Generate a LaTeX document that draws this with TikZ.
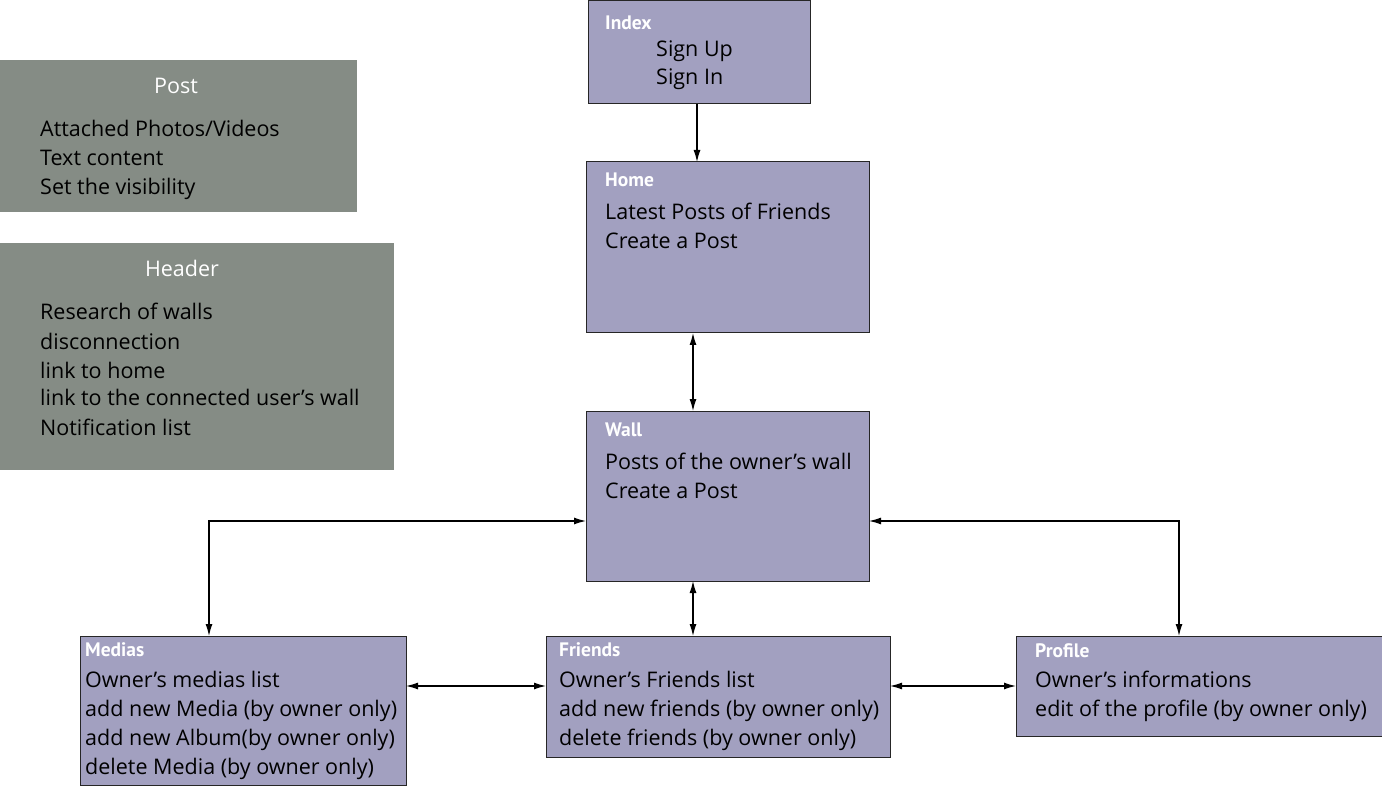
\documentclass[tikz,border=0pt]{standalone}
\usepackage{fontspec}
\setmainfont{Open Sans}
\newfontfamily\ttlfont{PT Sans}
\usetikzlibrary{arrows.meta}
\definecolor{boxfill}{HTML}{A2A0C0}
\definecolor{greyfill}{HTML}{858C85}
\tikzset{
  pg/.style={draw=black!85, line width=1pt, fill=boxfill, inner sep=0pt, outer sep=0pt},
  gb/.style={fill=greyfill, inner sep=0pt, outer sep=0pt},
  ttl/.style={anchor=base west, inner sep=0pt, text=white, font=\ttlfont\bfseries\fontsize{19.5}{19.5}\selectfont},
  gttl/.style={anchor=base, inner sep=0pt, text=white, font=\fontsize{21.5}{21.5}\selectfont},
  txt/.style={anchor=base west, inner sep=0pt, font=\fontsize{21.5}{21.5}\selectfont},
  conn/.style={line width=1.2pt, -{Latex[length=12pt,width=7pt]}},
  bconn/.style={line width=1.2pt, {Latex[length=12pt,width=7pt]}-{Latex[length=12pt,width=7pt]}},
}
\begin{document}
\begin{tikzpicture}[x=1pt,y=-1pt]
\useasboundingbox (0,0) rectangle (1382,786);
% grey boxes
\node[gb, minimum width=357pt, minimum height=152pt] (post) at (178.5,136) {};
\node[gttl] (postt) at (176,94) {Post};
\node[txt] (p1) at (40,137) {Attached Photos/Videos};
\node[txt] (p2) at (40,166) {Text content};
\node[txt] (p3) at (40,195) {Set the visibility};
\node[gb, minimum width=394pt, minimum height=227pt] (header) at (197,356.5) {};
\node[gttl] (headt) at (182,277) {Header};
\node[txt] (h1) at (40,320) {Research of walls};
\node[txt] (h2) at (40,349) {disconnection};
\node[txt] (h3) at (40,378) {link to home};
\node[txt] (h4) at (40,406) {link to the connected user’s wall};
\node[txt] (h5) at (40,435) {Notification list};
% page boxes
\node[pg, minimum width=222pt, minimum height=103pt] (index) at (699,52.5) {};
\node[ttl] (indext) at (605,30) {Index};
\node[txt] (i1) at (656,57) {Sign Up};
\node[txt] (i2) at (656,85) {Sign In};

\node[pg, minimum width=283pt, minimum height=171pt] (home) at (727.5,247.5) {};
\node[ttl] (homet) at (605,187) {Home};
\node[txt] (ho1) at (605,220) {Latest Posts of Friends};
\node[txt] (ho2) at (605,249) {Create a Post};

\node[pg, minimum width=283pt, minimum height=170pt] (wall) at (727.5,496) {};
\node[ttl] (wallt) at (605,436) {Wall};
\node[txt] (w1) at (605,469) {Posts of the owner’s wall};
\node[txt] (w2) at (605,498) {Create a Post};

\node[pg, minimum width=326pt, minimum height=149pt] (medias) at (243,710.5) {};
\node[ttl] (medt) at (85,656) {Medias};
\node[txt] (m1) at (85,687) {Owner’s medias list};
\node[txt] (m2) at (85,716) {add new Media (by owner only)};
\node[txt] (m3) at (85,745) {add new Album(by owner only)};
\node[txt] (m4) at (85,774) {delete Media (by owner only)};

\node[pg, minimum width=344pt, minimum height=121pt] (friends) at (718,696.5) {};
\node[ttl] (frt) at (559,656) {Friends};
\node[txt] (f1) at (559,687) {Owner’s Friends list};
\node[txt] (f2) at (559,716) {add new friends (by owner only)};
\node[txt] (f3) at (559,745) {delete friends (by owner only)};

\node[pg, minimum width=366pt, minimum height=100pt] (profile) at (1199,686) {};
\node[ttl] (prt) at (1035,657) {Profile};
\node[txt] (pr1) at (1035,687) {Owner’s informations};
\node[txt] (pr2) at (1035,716) {edit of the profile (by owner only)};

% guide coordinates
\coordinate (x1) at (697,0);
\coordinate (x2) at (693,0);
\coordinate (x3) at (209,0);
\coordinate (x4) at (1179,0);
\coordinate (y1) at (0,521);
\coordinate (y2) at (0,686);

\draw[conn] (index.south -| x1) -- (home.north -| x1);
\draw[bconn] (home.south -| x2) -- (wall.north -| x2);
\draw[bconn] (wall.south -| x2) -- (friends.north -| x2);
\draw[bconn] (wall.west |- y1) -| (medias.north -| x3);
\draw[bconn] (wall.east |- y1) -| (profile.north -| x4);
\draw[bconn] (medias.east |- y2) -- (friends.west |- y2);
\draw[bconn] (friends.east |- y2) -- (profile.west |- y2);
\end{tikzpicture}
\end{document}
